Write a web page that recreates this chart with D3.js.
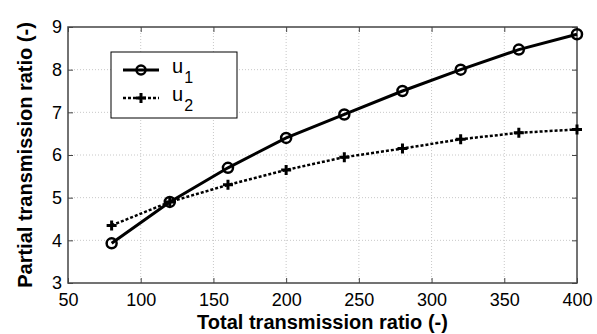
<!DOCTYPE html>
<html>
<head>
<meta charset="utf-8">
<script src="https://cdn.jsdelivr.net/npm/d3@7"></script>
<style>
  body { margin: 0; background: #fff; }
  text { font-family: "Liberation Sans", Arial, sans-serif; }
</style>
</head>
<body>
<svg id="chart" width="597" height="334"></svg>
<script>
// data
const ratios = [80, 120, 160, 200, 240, 280, 320, 360, 400];
const u1 = [3.93, 4.9, 5.7, 6.4, 6.95, 7.5, 8.0, 8.47, 8.83];
const u2 = [4.35, 4.9, 5.3, 5.65, 5.95, 6.15, 6.37, 6.52, 6.6];
const xTicks = [50, 100, 150, 200, 250, 300, 350, 400];
const yTicks = [3, 4, 5, 6, 7, 8, 9];

const svg = d3.select('#chart');
const plotL = 68, plotR = 577, plotT = 27, plotB = 283;

const x = d3.scaleLinear().domain([50, 400]).range([plotL, plotR]);
const y = d3.scaleLinear().domain([3, 9]).range([plotB, plotT]);

// dotted grid
const grid = svg.append('g').attr('stroke', '#c8c8c8').attr('stroke-dasharray', '1,2');
grid.selectAll('line.gx')
	.data(xTicks.slice(1, -1))
	.join('line')
	.attr('class', 'gx')
	.attr('x1', (d) => x(d)).attr('x2', (d) => x(d))
	.attr('y1', plotT).attr('y2', plotB);
grid.selectAll('line.gy')
	.data(yTicks.slice(1, -1))
	.join('line')
	.attr('class', 'gy')
	.attr('x1', plotL).attr('x2', plotR)
	.attr('y1', (d) => y(d)).attr('y2', (d) => y(d));

// axes with inward ticks on all four sides
const axisStyle = (g) => {
	g.select('.domain').remove();
	g.selectAll('.tick line').attr('stroke', '#444');
	g.selectAll('.tick text').attr('fill', '#000').style('font-size', '18px');
};
svg.append('g')
	.attr('transform', `translate(0,${plotB})`)
	.call(d3.axisBottom(x).tickValues(xTicks).tickSizeInner(-5).tickPadding(10).tickFormat(d3.format('d')))
	.call(axisStyle);
svg.append('g')
	.attr('transform', `translate(0,${plotT})`)
	.call(d3.axisTop(x).tickValues(xTicks).tickSizeInner(-5).tickFormat(''))
	.call(axisStyle);
svg.append('g')
	.attr('transform', `translate(${plotL},0)`)
	.call(d3.axisLeft(y).tickValues(yTicks).tickSizeInner(-5).tickPadding(6).tickFormat(d3.format('d')))
	.call(axisStyle);
svg.append('g')
	.attr('transform', `translate(${plotR},0)`)
	.call(d3.axisRight(y).tickValues(yTicks).tickSizeInner(-5).tickFormat(''))
	.call(axisStyle);

svg.append('rect')
	.attr('x', plotL).attr('y', plotT)
	.attr('width', plotR - plotL).attr('height', plotB - plotT)
	.attr('fill', 'none').attr('stroke', '#444').attr('stroke-width', 1.5);

// series
const line = d3.line().x((d) => x(d[0])).y((d) => y(d[1]));
const pts1 = ratios.map((r, i) => [r, u1[i]]);
const pts2 = ratios.map((r, i) => [r, u2[i]]);

svg.append('path')
	.datum(pts2)
	.attr('d', line)
	.attr('fill', 'none')
	.attr('stroke', '#000')
	.attr('stroke-width', 2.5)
	.attr('stroke-dasharray', '3,2');
svg.append('path')
	.datum(pts1)
	.attr('d', line)
	.attr('fill', 'none')
	.attr('stroke', '#000')
	.attr('stroke-width', 3);

const plus = (g, pts) => {
	g.selectAll('path.plus')
		.data(pts)
		.join('path')
		.attr('class', 'plus')
		.attr('d', (d) => `M${x(d[0]) - 5},${y(d[1])}h10M${x(d[0])},${y(d[1]) - 5}v10`)
		.attr('stroke', '#000')
		.attr('stroke-width', 3);
};
const circles = (g, pts) => {
	g.selectAll('circle')
		.data(pts)
		.join('circle')
		.attr('cx', (d) => x(d[0]))
		.attr('cy', (d) => y(d[1]))
		.attr('r', 5)
		.attr('fill', 'none')
		.attr('stroke', '#000')
		.attr('stroke-width', 2.5);
};
plus(svg.append('g'), pts2);
circles(svg.append('g'), pts1);

// legend
const lg = svg.append('g');
lg.append('rect')
	.attr('x', 111).attr('y', 52).attr('width', 126).attr('height', 66)
	.attr('fill', '#fff').attr('stroke', '#000').attr('stroke-width', 1);
lg.append('line')
	.attr('x1', 123).attr('x2', 159).attr('y1', 70).attr('y2', 70)
	.attr('stroke', '#000').attr('stroke-width', 3);
lg.append('circle')
	.attr('cx', 141).attr('cy', 70).attr('r', 4.5)
	.attr('fill', 'none').attr('stroke', '#000').attr('stroke-width', 2.5);
lg.append('line')
	.attr('x1', 123).attr('x2', 159).attr('y1', 98).attr('y2', 98)
	.attr('stroke', '#000').attr('stroke-width', 2.5).attr('stroke-dasharray', '3,2');
lg.append('path')
	.attr('d', 'M136,98h10M141,93v10')
	.attr('stroke', '#000').attr('stroke-width', 3);

const legendLabels = [['u', '1', 73], ['u', '2', 101]];
legendLabels.forEach(([base, sub, yy]) => {
	const t = lg.append('text').attr('x', 172).attr('y', yy).style('font-size', '20px');
	t.append('tspan').text(base);
	t.append('tspan').attr('dx', 1).attr('dy', 10).style('font-size', '16px').text(sub);
});

// axis titles
svg.append('text')
	.attr('x', (plotL + plotR) / 2).attr('y', 329)
	.attr('text-anchor', 'middle')
	.style('font-size', '20px').style('font-weight', 'bold')
	.text('Total transmission ratio (-)');
svg.append('text')
	.attr('transform', `translate(32,${(plotT + plotB) / 2}) rotate(-90)`)
	.attr('text-anchor', 'middle')
	.style('font-size', '20px').style('font-weight', 'bold')
	.text('Partial transmission ratio (-)');
</script>
</body>
</html>
